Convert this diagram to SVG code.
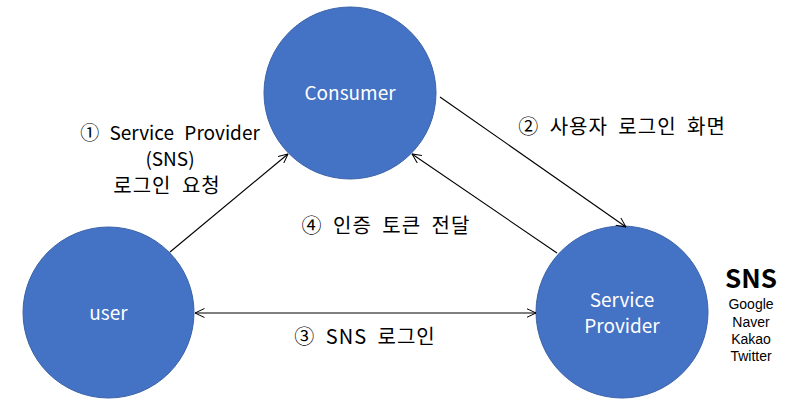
<svg xmlns="http://www.w3.org/2000/svg" width="806" height="405" viewBox="0 0 806 405">
<defs>
<marker id="arr" viewBox="0 0 10 10" refX="9.5" refY="5" markerWidth="10" markerHeight="10" markerUnits="userSpaceOnUse" orient="auto-start-reverse">
<path d="M0,0.5 L9.5,5 L0,9.5" fill="none" stroke="#000" stroke-width="1"/>
</marker>
<style>
.node{fill:#4472C4;stroke:#3A62A8;stroke-width:1}
.nt{font-family:"Noto Sans CJK KR","Noto Sans",sans-serif;font-size:19px;fill:#fff;text-anchor:middle}
.lb{font-family:"Noto Sans CJK KR","Noto Sans",sans-serif;font-size:20px;fill:#000;text-anchor:middle;letter-spacing:1px;word-spacing:5px}
.en{font-family:"Noto Sans CJK KR","Noto Sans",sans-serif;font-size:19px;fill:#000;text-anchor:middle;word-spacing:6px}
.sm{font-family:"Liberation Sans",Arial,sans-serif;font-size:14px;fill:#000;text-anchor:middle}
.ln{stroke:#000;stroke-width:1.1;fill:none;marker-end:url(#arr)}
</style>
</defs>
<rect width="806" height="405" fill="#fff"/>
<g id="consumer"><circle class="node" cx="350" cy="93" r="86"/><text class="nt" x="350" y="100">Consumer</text></g>
<g id="user"><circle class="node" cx="108.5" cy="312.5" r="85.5"/><text class="nt" x="108.5" y="320">user</text></g>
<g id="provider"><circle class="node" cx="622" cy="312" r="86"/><text class="nt" x="622" y="307">Service</text><text class="nt" x="622" y="333">Provider</text></g>
<g id="connectors">
<line class="ln" x1="170" y1="252" x2="288" y2="154"/>
<line class="ln" x1="440" y1="97" x2="626" y2="227"/>
<line class="ln" x1="557" y1="253" x2="412" y2="154"/>
<line class="ln" x1="195" y1="313" x2="536" y2="313" style="marker-start:url(#arr)"/>
</g>
<g id="labels">
<text class="en" x="170" y="140">① Service Provider</text>
<text class="en" x="170" y="166">(SNS)</text>
<text class="lb" x="167" y="193">로그인 요청</text>
<text class="lb" x="622" y="134">② 사용자 로그인 화면</text>
<text class="lb" x="386" y="233">④ 인증 토큰 전달</text>
<text class="lb" x="365" y="344">③ SNS 로그인</text>
</g>
<g id="sns">
<text x="751" y="288" style="font-family:'Noto Sans CJK KR','Noto Sans',sans-serif;font-size:26px;font-weight:bold;text-anchor:middle">SNS</text>
<text class="sm" x="751" y="309">Google</text>
<text class="sm" x="751" y="327">Naver</text>
<text class="sm" x="751" y="344">Kakao</text>
<text class="sm" x="751" y="361">Twitter</text>
</g>
</svg>
